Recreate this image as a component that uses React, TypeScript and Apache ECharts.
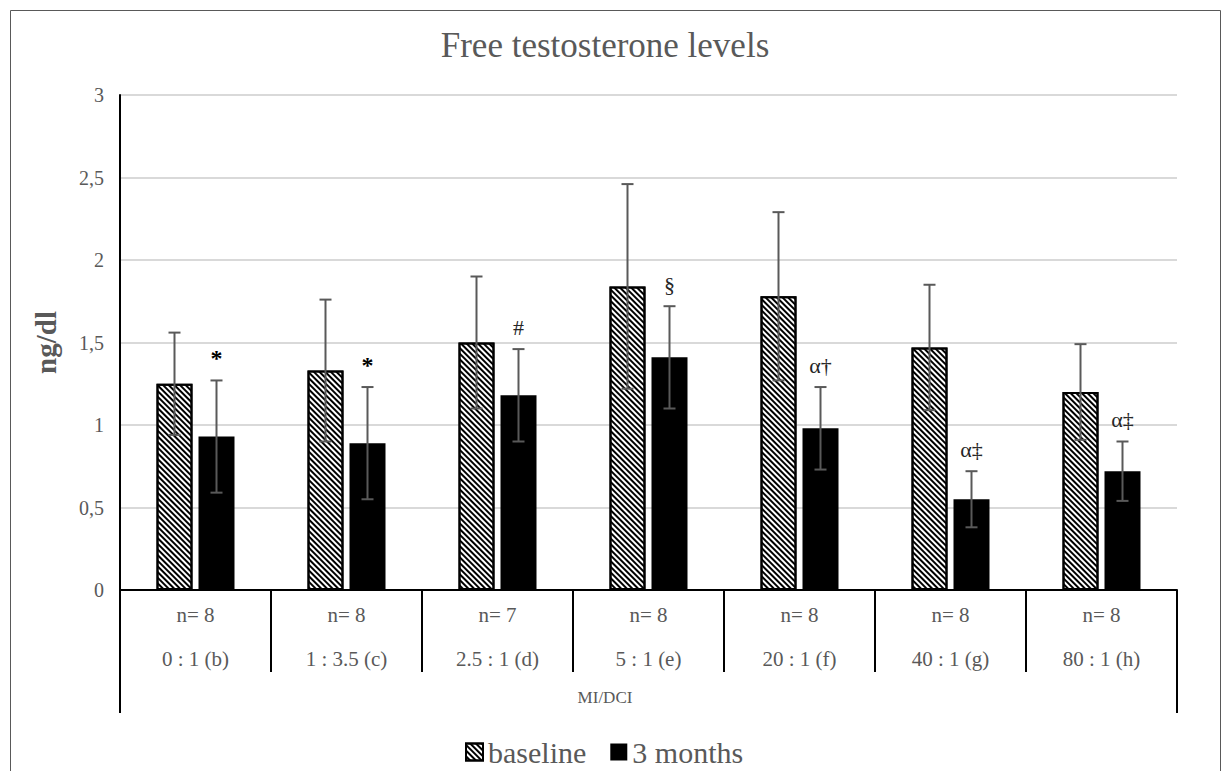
import React, { useEffect, useRef } from "react";
import * as echarts from "echarts";

const categories = ["0 : 1 (b)", "1 : 3.5 (c)", "2.5 : 1 (d)", "5 : 1 (e)", "20 : 1 (f)", "40 : 1 (g)", "80 : 1 (h)"];
const nValues = [8, 8, 7, 8, 8, 8, 8];
const baseline = [1.25, 1.33, 1.5, 1.84, 1.78, 1.47, 1.2];
const baselineErr = [0.31, 0.43, 0.4, 0.62, 0.51, 0.38, 0.29];
const months3 = [0.93, 0.89, 1.18, 1.41, 0.98, 0.55, 0.72];
const months3Err = [0.34, 0.34, 0.28, 0.31, 0.25, 0.17, 0.18];
const annotations = ["*", "*", "#", "§", "α†", "α‡", "α‡"];
const yTicks = [0, 0.5, 1, 1.5, 2, 2.5, 3];

const SERIF = "Liberation Serif, Times New Roman, serif";
const TEXT = "#595959";
const BAR_W = 36;
const GAP = 6;
const OFFSET = (BAR_W + GAP) / 2;

function makeErrRender(offset: number, withNote: boolean) {
  return (params: any, api: any) => {
    const idx = api.value(0);
    const mean = api.value(1);
    const err = api.value(2);
    const top = api.coord([idx, mean + err]);
    const bot = api.coord([idx, mean - err]);
    const x = top[0] + offset;
    const cap = 6;
    const ls = { stroke: "#595959", lineWidth: 2 };
    const children: any[] = [
      { type: "line", shape: { x1: x, y1: top[1], x2: x, y2: bot[1] }, style: ls },
      { type: "line", shape: { x1: x - cap, y1: top[1], x2: x + cap, y2: top[1] }, style: ls },
      { type: "line", shape: { x1: x - cap, y1: bot[1], x2: x + cap, y2: bot[1] }, style: ls },
    ];
    if (withNote) {
      const note = annotations[params.dataIndex];
      const bold = note === "*";
      children.push({
        type: "text",
        x: x,
        y: top[1] - 22,
        style: {
          text: note,
          align: "center",
          verticalAlign: "middle",
          fontFamily: SERIF,
          fontSize: note === "*" ? 24 : 22,
          fontWeight: bold ? "bold" : "normal",
          fill: bold ? "#000" : "#262626",
        },
      });
    }
    return { type: "group", children };
  };
}

export default function App() {
  const ref = useRef<HTMLDivElement>(null);
  useEffect(() => {
    if (!ref.current) return;
    const chart = echarts.init(ref.current, undefined, { renderer: "svg" });
    const labels = categories.map((c, i) => `n= ${nValues[i]}\n${c}`);
    chart.setOption({
      animation: false,
      backgroundColor: "#fff",
      textStyle: { fontFamily: SERIF },
      title: {
        text: "Free testosterone levels",
        left: 600,
        top: 23,
        textAlign: "center",
        textStyle: { fontFamily: SERIF, fontSize: 35, fontWeight: "normal", color: TEXT },
      },
      legend: {
        data: ["baseline", "3 months"],
        left: 460,
        top: 732,
        itemWidth: 17,
        itemHeight: 17,
        itemGap: 24,
        icon: "rect",
        textStyle: { fontFamily: SERIF, fontSize: 30, color: TEXT },
      },
      grid: { left: 120, right: 49, top: 95, bottom: 181, containLabel: false },
      xAxis: {
        type: "category",
        data: labels,
        axisLine: { show: true, lineStyle: { color: "#000", width: 2 } },
        axisTick: { show: true, interval: 0, length: 82, lineStyle: { color: "#000", width: 2 } },
        axisLabel: { interval: 0, fontFamily: SERIF, fontSize: 21, lineHeight: 44, color: TEXT, margin: 3 },
      },
      yAxis: {
        type: "value",
        min: 0,
        max: 3,
        interval: 0.5,
        name: "ng/dl",
        nameLocation: "middle",
        nameGap: 60,
        nameRotate: 90,
        nameTextStyle: { fontFamily: SERIF, fontSize: 29, fontWeight: "bold", color: TEXT },
        axisLine: { show: true, lineStyle: { color: "#000", width: 2 } },
        axisTick: { show: false },
        axisLabel: {
          fontFamily: SERIF,
          fontSize: 20,
          color: TEXT,
          margin: 16,
          formatter: (v: number) => (yTicks.includes(v) ? String(v).replace(".", ",") : ""),
        },
        splitLine: { show: true, lineStyle: { color: "#d9d9d9", width: 2 } },
      },
      series: [
        {
          name: "baseline",
          type: "bar",
          data: baseline,
          barWidth: BAR_W,
          barGap: `${(GAP / BAR_W) * 100}%`,
          itemStyle: {
            color: "#fff",
            borderColor: "#000",
            borderWidth: 2,
            decal: {
              symbol: "rect",
              symbolSize: 1,
              dashArrayX: [1, 0],
              dashArrayY: [2, 1.5],
              rotation: Math.PI / 4,
              color: "#000",
              backgroundColor: "#fff",
            },
          },
          z: 2,
        },
        {
          name: "3 months",
          type: "bar",
          data: months3,
          barWidth: BAR_W,
          itemStyle: { color: "#000" },
          z: 2,
        },
        {
          name: "baseline-err",
          type: "custom",
          renderItem: makeErrRender(-OFFSET, false),
          data: baseline.map((v, i) => [i, v, baselineErr[i]]),
          encode: { x: 0, y: 1 },
          z: 5,
          silent: true,
        },
        {
          name: "3months-err",
          type: "custom",
          renderItem: makeErrRender(OFFSET, true),
          data: months3.map((v, i) => [i, v, months3Err[i]]),
          encode: { x: 0, y: 1 },
          z: 5,
          silent: true,
        },
      ],
      graphic: [
        {
          type: "rect",
          left: 8,
          top: 8,
          shape: { width: 1210, height: 800 },
          style: { fill: "none", stroke: "#595959", lineWidth: 1 },
          silent: true,
        },
        {
          type: "line",
          shape: { x1: 120, y1: 590, x2: 120, y2: 713 },
          style: { stroke: "#000", lineWidth: 2 },
          silent: true,
        },
        {
          type: "line",
          shape: { x1: 1177, y1: 590, x2: 1177, y2: 713 },
          style: { stroke: "#000", lineWidth: 2 },
          silent: true,
        },
        {
          type: "text",
          x: 605,
          y: 697,
          style: {
            text: "MI/DCI",
            align: "center",
            verticalAlign: "middle",
            fontFamily: SERIF,
            fontSize: 17,
            fill: TEXT,
          },
          silent: true,
        },
      ],
    });
    return () => chart.dispose();
  }, []);
  return (
    <div
      ref={ref}
      style={{ position: "fixed", left: 0, top: 0, width: 1226, height: 771 }}
    />
  );
}
